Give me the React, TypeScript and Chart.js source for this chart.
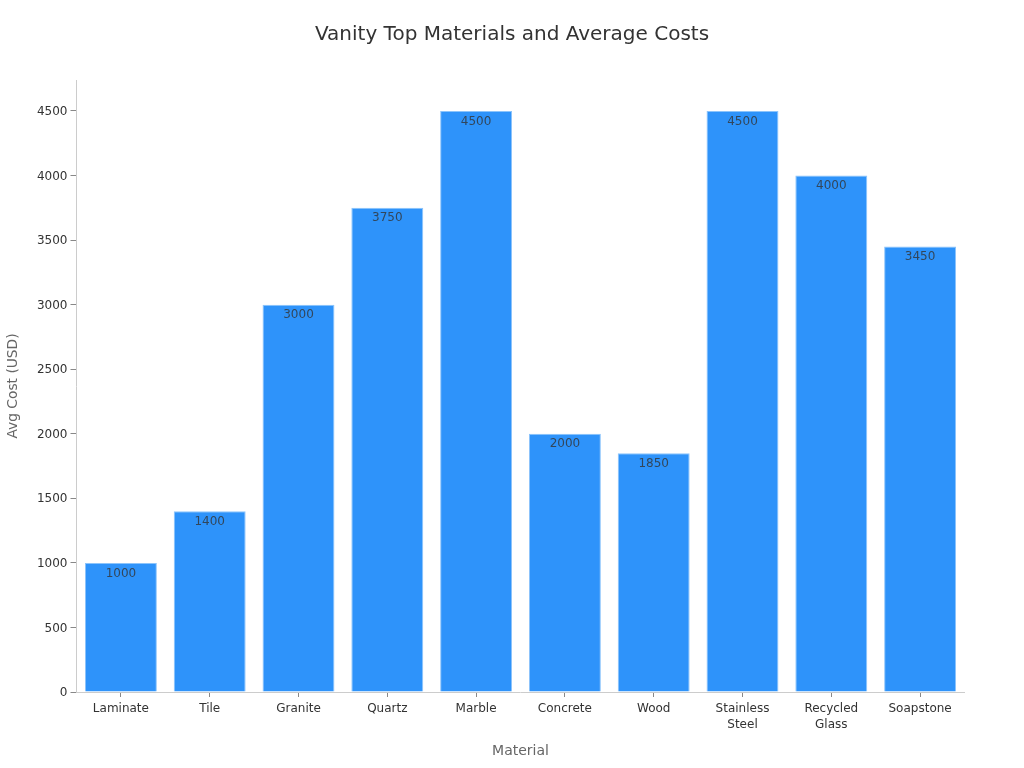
import React, { useEffect, useRef } from "react";
import { Chart, registerables } from "chart.js";

Chart.register(...registerables);

const categories = ["Laminate", "Tile", "Granite", "Quartz", "Marble", "Concrete", "Wood", ["Stainless", "Steel"], ["Recycled", "Glass"], "Soapstone"];
const costs = [1000, 1400, 3000, 3750, 4500, 2000, 1850, 4500, 4000, 3450];
const yTicks = [0, 500, 1000, 1500, 2000, 2500, 3000, 3500, 4000, 4500];
const titleText = "Vanity Top Materials and Average Costs";
const xTitle = "Material";
const yTitle = "Avg Cost (USD)";

const FONT = "'DejaVu Sans', sans-serif";

const valueLabels = {
  id: "valueLabels",
  beforeDraw(chart: any) {
    const t = chart.titleBlock;
    if (t) {
      t.left = 0;
      t.right = chart.width;
      t.width = chart.width;
    }
  },
  afterDatasetsDraw(chart: any) {
    const { ctx } = chart;
    const meta = chart.getDatasetMeta(0);
    ctx.save();
    ctx.font = `12px ${FONT}`;
    ctx.fillStyle = "rgba(51,51,51,0.8)";
    ctx.textAlign = "center";
    ctx.textBaseline = "middle";
    meta.data.forEach((bar: any, i: number) => {
      ctx.fillText(String(costs[i]), bar.x, bar.y + 10.5);
    });
    ctx.restore();
  },
};

export default function App() {
  const ref = useRef<HTMLCanvasElement>(null);
  useEffect(() => {
    document.body.style.margin = "0";
    const chart = new Chart(ref.current!, {
      type: "bar",
      data: {
        labels: categories as any,
        datasets: [{
          data: costs,
          backgroundColor: "#2e93fa",
          borderColor: "#8cc4fb",
          borderWidth: 1,
          barPercentage: 0.81,
          categoryPercentage: 1,
        }],
      },
      options: {
        animation: false,
        responsive: false,
        devicePixelRatio: 1,
        layout: { padding: { right: 59.5, left: 0, top: 0, bottom: 0 } },
        plugins: {
          legend: { display: false },
          tooltip: { enabled: false },
          title: {
            display: true,
            text: titleText,
            color: "#333333",
            font: { family: FONT, size: 20, weight: "normal" },
            padding: { top: 22.5, bottom: 33.5 },
          },
        },
        scales: {
          x: {
            afterFit: (s: any) => { s.height = 76; },
            grid: { drawOnChartArea: false, drawTicks: true, tickLength: 5, tickColor: "#888888", offset: false },
            border: { color: "#cccccc", width: 1 },
            ticks: { color: "#333333", font: { family: FONT, size: 12, lineHeight: 1.35 }, maxRotation: 0, autoSkip: false, padding: 4 },
            title: { display: true, text: xTitle, color: "#666666", font: { family: FONT, size: 14 }, padding: { top: 8, bottom: 8 } },
          },
          y: {
            min: 0,
            max: 4740,
            afterFit: (s: any) => { s.width = 76.5; },
            afterBuildTicks: (s: any) => { s.ticks = yTicks.map((value) => ({ value })); },
            grid: { drawOnChartArea: false, drawTicks: true, tickLength: 6, tickColor: "#888888" },
            border: { color: "#cccccc", width: 1 },
            ticks: { color: "#333333", font: { family: FONT, size: 12 }, padding: 3, labelOffset: 1, callback: (v: any) => String(v) },
            title: { display: true, text: yTitle, color: "#666666", font: { family: FONT, size: 13.8 }, padding: { top: 5.5, bottom: 4 } },
          },
        },
      } as any,
      plugins: [valueLabels],
    });
    return () => chart.destroy();
  }, []);
  return <canvas ref={ref} width={1024} height={768} style={{ display: "block" }} />;
}
